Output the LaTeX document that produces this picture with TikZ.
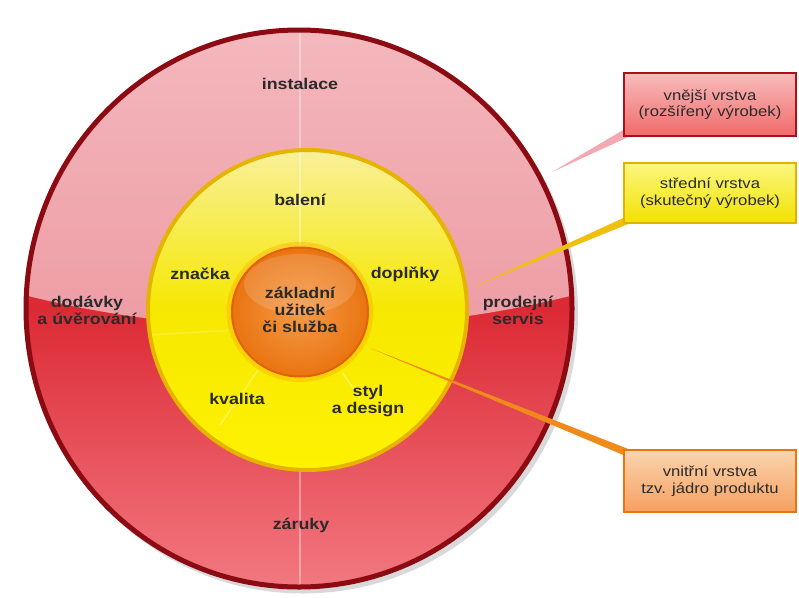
\documentclass[tikz,border=0pt]{standalone}
\usepackage{fontspec}
\setmainfont{Liberation Sans}
\usepackage{graphicx}
\usetikzlibrary{calc}
\definecolor{txt}{HTML}{2A2A2A}
\definecolor{redA}{HTML}{E8404A}
\definecolor{redB}{HTML}{DC2A35}
\definecolor{redC}{HTML}{F27880}
\definecolor{redEdge}{HTML}{8C0A12}
\definecolor{glossTop}{HTML}{F8D4D6}
\definecolor{glossBot}{HTML}{EE9CA4}
\definecolor{yelTop}{HTML}{F8F09A}
\definecolor{yelMid}{HTML}{F6E800}
\definecolor{yelBot}{HTML}{FFF200}
\definecolor{yelEdge}{HTML}{E6B400}
\definecolor{orgIn}{HTML}{F49A48}
\definecolor{orgOut}{HTML}{EA7410}
\definecolor{orgEdge}{HTML}{E0620C}
\definecolor{boxRT}{HTML}{F9BCBC}
\definecolor{boxRB}{HTML}{F06A6A}
\definecolor{boxRE}{HTML}{A8121A}
\definecolor{boxYT}{HTML}{FBF680}
\definecolor{boxYB}{HTML}{F2E200}
\definecolor{boxYE}{HTML}{E6B000}
\definecolor{boxOT}{HTML}{FBD4AE}
\definecolor{boxOB}{HTML}{F5A060}
\definecolor{boxOE}{HTML}{E8760C}
\definecolor{wedR}{HTML}{F2A0A8}
\definecolor{wedY}{HTML}{F0C010}
\definecolor{wedO}{HTML}{F08A1A}
\newcommand{\hs}[1]{\scalebox{1.15}[1]{#1}}
\begin{document}
\begin{tikzpicture}[x=1pt,y=-1pt,
  lbl/.style={font=\bfseries\fontsize{15.5}{17}\selectfont, text=txt, align=center, inner sep=0pt},
  call/.style={draw, line width=2.4pt, minimum width=172pt, minimum height=60pt,
    font=\fontsize{14.5}{16.5}\selectfont, align=center, text=txt},
  faint/.style={white, opacity=0.35, line width=1.5pt}]
\useasboundingbox (0,0) rectangle (799,597);

% outer ring
\coordinate (oc) at (299,308.5);
\fill[black!15] ($(oc)+(4,5)$) ellipse (275 and 280);
\shade[top color=redA, bottom color=redC, middle color=redB] (oc) ellipse (273 and 278.5);
\begin{scope}
  \clip (oc) ellipse (273 and 278.5);
  \shade[top color=glossTop, bottom color=glossBot] (299,30) ellipse (600 and 298);
\end{scope}
\draw[faint] (300,32) -- (300,150);
\draw[faint] (300,470) -- (300,584);
\draw[redEdge, line width=5pt] (oc) ellipse (273 and 278.5);

% middle ring
\coordinate (mc) at (307.5,310);
\shade[top color=yelTop, bottom color=yelBot, middle color=yelMid] (mc) ellipse (159.5 and 160);
\draw[faint] (300,152) -- (300,248);
\draw[faint] (258,370) -- (220,425);
\draw[faint] (342,372) -- (360,398);
\draw[faint, opacity=0.2] (150,335) -- (234,330);
\draw[yelEdge, line width=4pt] (mc) ellipse (159.5 and 160);

% inner core
\coordinate (ic) at (300,312);
\draw[orange!60!yellow, line width=7pt, opacity=0.45] (ic) ellipse (70 and 66.5);
\shade[inner color=orgIn, outer color=orgOut] (ic) ellipse (68 and 64.5);
\fill[white, opacity=0.15] (300,284) ellipse (56 and 30);
\draw[orgEdge, line width=2pt] (ic) ellipse (68 and 64.5);

% labels
\node[lbl] (l1) at (300,84) {\hs{instalace}};
\node[lbl] (l2) at (300,200) {\hs{balení}};
\node[lbl] (l3) at (200,274) {\hs{značka}};
\node[lbl] (l4) at (405,274) {\hs{doplňky}};
\node[lbl] (l5) at (300,310) {\hs{základní}\\\hs{užitek}\\\hs{či služba}};
\node[lbl] (l6) at (87,310) {\hs{dodávky}\\\hs{a úvěrování}};
\node[lbl] (l7) at (518,310) {\hs{prodejní}\\\hs{servis}};
\node[lbl] (l8) at (237,399) {\hs{kvalita}};
\node[lbl] (l9) at (368,401) {\hs{styl}\\\hs{a design}};
\node[lbl] (l10) at (301,525) {\hs{záruky}};

% callout boxes (positions) and wedges
\path (710,104.5) coordinate (pA) (710,193) coordinate (pB) (710,481) coordinate (pC);
\coordinate (tipA) at (552,172);
\coordinate (tipB) at (473,287);
\coordinate (tipC) at (370,348);
\node[call, draw=none, minimum height=63pt] (boxA) at (pA) {};
\node[call, draw=none] (boxB) at (pB) {};
\node[call, draw=none, minimum height=62pt] (boxC) at (pC) {};
\fill[wedR, opacity=0.9] (tipA) -- ($(boxA.south west)+(0,-7)$) -- ($(boxA.south west)+(5,0)$) -- cycle;
\fill[wedY] (tipB) -- ($(boxB.south west)+(0,-6)$) -- ($(boxB.south west)+(5,0)$) -- cycle;
\fill[wedO] (tipC) -- ($(boxC.north west)+(0,6)$) -- ($(boxC.north west)+(5,0)$) -- cycle;
\node[call, draw=boxRE, top color=boxRT, bottom color=boxRB, minimum height=63pt] at (pA)
  {\hs{vnější vrstva}\\\hs{(rozšířený výrobek)}};
\node[call, draw=boxYE, top color=boxYT, bottom color=boxYB] at (pB)
  {\hs{střední vrstva}\\\hs{(skutečný výrobek)}};
\node[call, draw=boxOE, top color=boxOT, bottom color=boxOB, minimum height=62pt] at (pC)
  {\hs{vnitřní vrstva}\\\hs{tzv. jádro produktu}};
\end{tikzpicture}
\end{document}
